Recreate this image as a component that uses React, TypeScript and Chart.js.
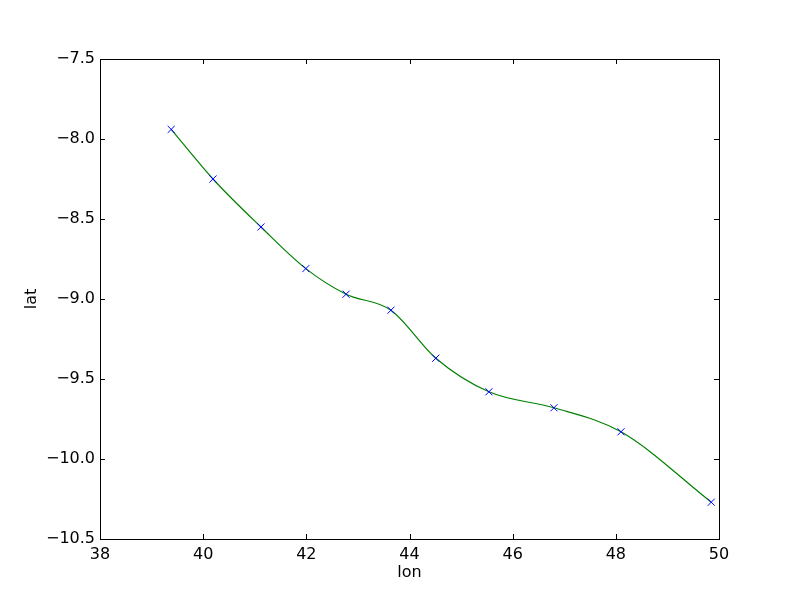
import React, { useEffect, useRef } from "react";
import { Chart, registerables } from "chart.js";

Chart.register(...registerables);

const lon = [39.38, 40.19, 41.12, 41.99, 42.77, 43.64, 44.51, 45.54, 46.8, 48.1, 49.85];
const lat = [-7.94, -8.25, -8.55, -8.81, -8.97, -9.07, -9.37, -9.58, -9.68, -9.83, -10.27];
const xTicks = [38, 40, 42, 44, 46, 48, 50];
const yTicks = [-10.5, -10.0, -9.5, -9.0, -8.5, -8.0, -7.5];

const FONT = "'DejaVu Sans', sans-serif";

const frame = {
  id: "mplFrame",
  afterDraw(chart: any) {
    const { ctx, chartArea: a, scales } = chart;
    ctx.save();
    ctx.strokeStyle = "#000";
    ctx.lineWidth = 1;
    const L = 5;
    ctx.beginPath();
    for (const t of scales.x.ticks) {
      const px = Math.round(scales.x.getPixelForValue(t.value)) + 0.5;
      ctx.moveTo(px, a.bottom);
      ctx.lineTo(px, a.bottom - L);
      ctx.moveTo(px, a.top);
      ctx.lineTo(px, a.top + L);
    }
    for (const t of scales.y.ticks) {
      const py = Math.round(scales.y.getPixelForValue(t.value)) + 0.5;
      ctx.moveTo(a.left, py);
      ctx.lineTo(a.left + L, py);
      ctx.moveTo(a.right, py);
      ctx.lineTo(a.right - L, py);
    }
    ctx.stroke();
    ctx.strokeRect(Math.round(a.left) + 0.5, Math.round(a.top) + 0.5, Math.round(a.right - a.left), Math.round(a.bottom - a.top));
    ctx.restore();
  },
};

export default function App() {
  const ref = useRef<HTMLCanvasElement>(null);
  useEffect(() => {
    if (!ref.current) return;
    const chart = new Chart(ref.current, {
      type: "line",
      data: {
        datasets: [
          {
            data: lon.map((x, i) => ({ x, y: lat[i] })),
            borderColor: "#008000",
            borderWidth: 1.2,
            cubicInterpolationMode: "monotone",
            pointStyle: "crossRot",
            pointRadius: 5,
            pointBorderColor: "#0000ff",
            pointBorderWidth: 1,
            pointBackgroundColor: "#0000ff",
            fill: false,
          },
        ],
      },
      options: {
        animation: false,
        responsive: false,
        layout: { padding: { top: 59, right: 81, left: 0, bottom: 0 } },
        plugins: { legend: { display: false }, tooltip: { enabled: false } },
        scales: {
          x: {
            type: "linear",
            min: 38,
            max: 50,
            afterBuildTicks: (s: any) => {
              s.ticks = xTicks.map((v) => ({ value: v }));
            },
            afterFit: (s: any) => {
              s.height = 61;
            },
            grid: { display: false, drawTicks: false },
            border: { display: false },
            ticks: {
              color: "#000",
              padding: 6,
              font: { family: FONT, size: 16 },
              callback: (v: any) => String(v),
            },
            title: {
              display: true,
              text: "lon",
              color: "#000",
              font: { family: FONT, size: 16 },
              padding: { top: 0, bottom: 18 },
            },
          },
          y: {
            type: "linear",
            min: -10.5,
            max: -7.5,
            afterBuildTicks: (s: any) => {
              s.ticks = yTicks.map((v) => ({ value: v }));
            },
            afterFit: (s: any) => {
              s.width = 100;
            },
            grid: { display: false, drawTicks: false },
            border: { display: false },
            ticks: {
              color: "#000",
              padding: 5,
              font: { family: FONT, size: 16 },
              callback: (v: any) => Number(v).toFixed(1).replace("-", "\u2212"),
            },
            title: {
              display: true,
              text: "lat",
              color: "#000",
              font: { family: FONT, size: 16 },
              padding: { top: 22, bottom: 0 },
            },
          },
        },
      },
      plugins: [frame],
    });
    return () => chart.destroy();
  }, []);
  return (
    <div style={{ position: "absolute", left: 0, top: 0, width: 800, height: 600, background: "#fff" }}>
      <canvas ref={ref} width={800} height={600} />
    </div>
  );
}
